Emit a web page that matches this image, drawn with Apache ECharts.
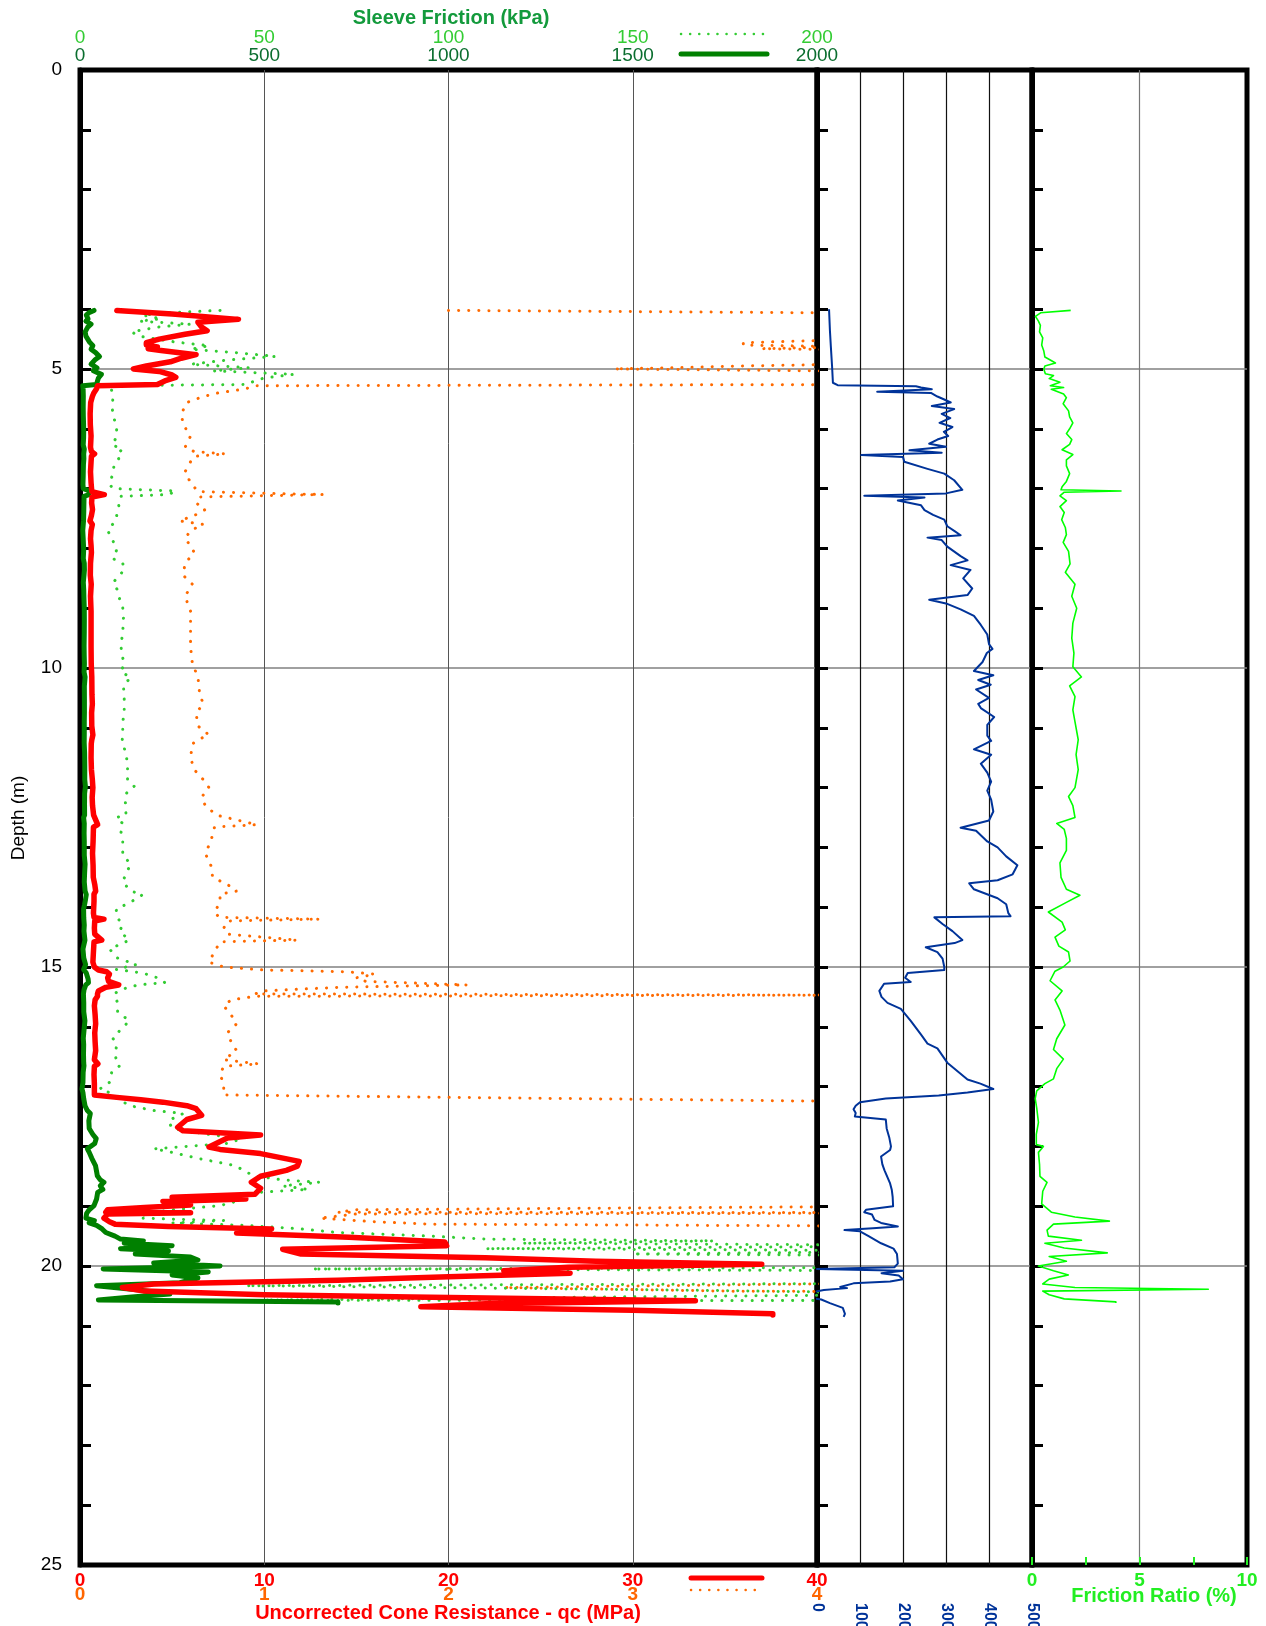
<!DOCTYPE html>
<html><head><meta charset="utf-8">
<script src="https://cdn.jsdelivr.net/npm/echarts@6/dist/echarts.min.js"></script>
<style>html,body{margin:0;padding:0;background:#fff}#c{width:1266px;height:1626px}</style>
</head><body><div id="c"></div><script>
// ---------- DATA ----------
// Cone resistance qc (MPa) vs depth (m)
const qcDepth = [4.02,4.08,4.17,4.22,4.30,4.36,4.42,4.50,4.56,4.60,4.63,4.66,4.69,4.76,4.82,4.88,4.95,5.00,5.04,5.10,5.14,5.20,5.26,5.28,5.33,5.40,5.46,5.56,5.75,5.93,6.12,6.31,6.38,6.42,6.46,6.55,6.72,6.90,7.05,7.10,7.14,7.24,7.35,7.45,7.54,7.60,7.70,7.84,7.95,8.07,8.25,8.45,8.60,8.80,9.05,9.35,9.65,9.93,10.15,10.45,10.60,10.75,10.97,11.12,11.20,11.27,11.50,11.70,11.87,12.00,12.16,12.30,12.46,12.62,12.66,12.90,13.10,13.30,13.50,13.62,13.73,13.78,13.90,14.10,14.17,14.20,14.23,14.35,14.45,14.55,14.58,14.80,14.92,15.00,15.05,15.08,15.12,15.18,15.24,15.30,15.34,15.40,15.45,15.49,15.55,15.65,15.80,15.95,16.10,16.25,16.40,16.55,16.62,16.66,16.80,16.95,17.14,17.18,17.22,17.26,17.32,17.37,17.48,17.55,17.68,17.74,17.81,17.86,18.01,18.05,18.12,18.25,18.33,18.40,18.50,18.60,18.70,18.80,18.85,18.88,18.92,18.98,19.02,19.06,19.10,19.11,19.13,19.20,19.26,19.30,19.34,19.38,19.45,19.52,19.60,19.66,19.72,19.80,19.86,19.92,19.97,20.02,20.08,20.12,20.18,20.24,20.30,20.36,20.42,20.48,20.52,20.58,20.63,20.68,20.74,20.80,20.82];
const qcValues = [2.0,5.0,8.6,6.4,6.6,6.9,5.7,4.3,3.6,3.6,4.2,3.7,4.4,6.3,5.5,4.9,3.6,2.9,4.3,5.0,5.2,4.6,4.2,0.95,0.90,0.75,0.67,0.58,0.55,0.56,0.60,0.57,0.62,0.79,0.62,0.60,0.57,0.60,0.64,1.32,0.65,0.63,0.68,0.62,0.54,0.67,0.60,0.57,0.60,0.62,0.57,0.56,0.61,0.57,0.60,0.60,0.60,0.61,0.64,0.65,0.67,0.63,0.64,0.70,0.64,0.61,0.60,0.62,0.67,0.70,0.66,0.68,0.74,0.96,0.73,0.71,0.68,0.71,0.72,0.80,0.85,0.76,0.76,0.73,0.76,1.30,0.80,0.78,0.80,1.18,0.76,0.72,0.70,0.78,1.00,1.45,1.60,1.50,1.55,2.10,1.40,1.00,0.95,0.95,0.82,0.78,0.82,0.85,0.80,0.82,0.85,0.78,0.97,0.78,0.76,0.78,0.78,2.0,3.3,4.5,5.8,6.3,6.6,5.8,5.3,5.6,9.8,8.0,7.0,7.6,9.8,11.9,11.8,11.2,9.8,9.3,9.8,9.5,5.0,9.0,4.5,6.0,3.5,1.5,1.4,6.0,1.5,1.3,1.6,1.9,4.8,10.4,8.5,14.6,19.8,19.9,11.0,12.0,22.0,28.0,37.0,26.5,23.0,26.6,20.0,14.0,4.0,2.3,3.5,10.0,18.0,33.4,22.0,18.5,30.0,37.6,37.6];
// Extra sample seen only on the 0-4 MPa trace: [depth, qc]
const qcZoomExtra = [[15.47, 4.3]];

// Sleeve friction fs (kPa) vs depth (m)
const fsDepth = [4.02,4.06,4.10,4.16,4.20,4.25,4.30,4.38,4.45,4.55,4.61,4.67,4.73,4.79,4.85,4.92,4.98,5.03,5.09,5.15,5.21,5.26,5.28,5.34,5.45,5.63,5.78,5.90,6.04,6.15,6.27,6.34,6.42,6.50,6.60,6.79,6.93,7.00,7.04,7.10,7.13,7.39,7.54,7.70,7.84,8.02,8.17,8.25,8.36,8.57,8.70,8.80,8.99,9.18,9.40,9.63,9.78,9.93,10.07,10.15,10.30,10.52,10.75,10.90,11.10,11.25,11.42,11.64,11.87,11.98,12.10,12.28,12.46,12.50,12.60,12.76,12.90,13.13,13.28,13.43,13.58,13.73,13.79,13.88,13.96,14.03,14.18,14.30,14.40,14.55,14.70,14.85,14.96,15.04,15.10,15.20,15.26,15.30,15.38,15.45,15.60,15.75,15.90,16.05,16.19,16.30,16.45,16.60,16.65,16.76,16.93,17.04,17.10,17.20,17.32,17.40,17.45,17.57,17.70,17.80,17.87,17.95,18.04,18.10,18.20,18.32,18.42,18.49,18.56,18.60,18.66,18.72,18.77,18.88,18.99,19.06,19.12,19.20,19.24,19.28,19.32,19.38,19.44,19.50,19.55,19.58,19.62,19.66,19.71,19.75,19.80,19.85,19.90,19.95,20.00,20.05,20.10,20.15,20.20,20.28,20.33,20.40,20.47,20.52,20.57,20.60,20.62];
const fsValues = [38,24,17,22,16,30,21,14,16,26,35,30,43,53,40,30,46,36,58,50,47,45,7.5,8.5,9,8.7,9,9.6,10,9.8,8.7,11.6,10,10.5,9.3,8.7,8,9,26,24,11,10.2,9.6,7.5,8.7,10,8.9,11.6,12,9,10.2,10.5,11.6,11.8,11.6,11.1,11.4,12,11.1,13.8,11.8,12,12,11.6,11.6,11.4,12.5,12.9,12.9,14.7,12.5,12.3,12.5,9.8,11.6,11.1,11.6,11.6,13.8,12.5,11.6,13.8,17,14.7,12.3,9.8,10.2,11.6,10.7,13.4,8,10.2,15.2,9.8,17,22,23,15.7,11,9.3,10.2,10.2,13.4,11,8.9,10,9.5,10,10.8,8.6,8,5.4,8,10,13.6,20,28,24,25,35,44,40,20,25,32,42,45,47,55,65,55,62,48,45,38,25,18,16,39,25,45,60,70,95,110,172,120,250,110,240,150,300,320,200,380,63,348,250,320,271,45,160,244,140,50,700,700];

// Middle track (0-500) vs depth (m)
const midDepth = [4.00,4.35,4.60,4.95,5.23,5.27,5.29,5.31,5.34,5.38,5.40,5.46,5.51,5.56,5.62,5.67,5.75,5.82,5.90,5.97,6.05,6.12,6.18,6.25,6.30,6.36,6.40,6.44,6.47,6.55,6.67,6.75,6.86,7.02,7.08,7.12,7.15,7.20,7.28,7.36,7.44,7.52,7.63,7.71,7.78,7.82,7.86,7.97,8.13,8.20,8.28,8.36,8.50,8.67,8.78,8.86,8.92,9.02,9.13,9.28,9.44,9.60,9.68,9.75,9.90,10.05,10.12,10.20,10.28,10.36,10.50,10.60,10.67,10.82,10.95,11.13,11.22,11.36,11.45,11.60,11.75,11.90,12.05,12.20,12.40,12.55,12.67,12.72,12.90,13.00,13.15,13.30,13.45,13.55,13.60,13.70,13.85,13.95,14.10,14.15,14.17,14.28,14.40,14.55,14.60,14.67,14.75,14.86,15.00,15.05,15.10,15.18,15.25,15.28,15.40,15.50,15.60,15.70,15.90,16.13,16.28,16.36,16.60,16.88,16.95,17.04,17.10,17.15,17.20,17.26,17.32,17.38,17.44,17.50,17.55,17.70,17.85,18.00,18.06,18.17,18.30,18.40,18.62,18.73,18.85,19.00,19.06,19.10,19.14,19.23,19.28,19.34,19.37,19.40,19.42,19.50,19.62,19.71,19.80,19.96,20.02,20.05,20.08,20.12,20.16,20.22,20.26,20.29,20.35,20.37,20.40,20.45,20.50,20.56,20.62,20.70,20.80,20.85];
const midValues = [28,30,32,35,37,48,230,242,267,140,265,280,296,311,267,319,290,310,285,315,295,305,280,261,300,215,290,103,200,203,257,296,319,338,300,110,250,188,242,250,270,296,303,320,334,257,290,303,334,350,311,357,340,361,350,261,300,334,365,381,396,400,408,395,385,365,410,375,404,370,400,375,381,412,396,396,405,365,405,381,396,405,396,405,410,400,334,370,396,420,440,466,455,420,354,365,420,440,445,450,273,292,315,338,320,253,280,292,296,296,211,205,218,156,145,150,164,195,218,242,257,280,303,350,380,410,350,283,160,100,90,85,90,88,160,162,168,172,170,149,152,157,170,174,176,177,114,110,128,134,149,188,130,64,100,120,149,178,186,188,180,0,200,150,190,200,170,85,54,70,16,-20,-55,10,30,60,65,62];

// Friction ratio Rf (%) vs depth (m)
const rfDepth = [4.02,4.06,4.12,4.20,4.27,4.38,4.48,4.60,4.70,4.80,4.85,4.90,4.95,5.00,5.08,5.11,5.16,5.22,5.28,5.31,5.34,5.42,5.48,5.58,5.70,5.80,5.90,6.00,6.08,6.18,6.26,6.35,6.43,6.52,6.62,6.75,6.88,6.97,7.02,7.04,7.06,7.12,7.20,7.30,7.40,7.52,7.65,7.77,7.90,8.05,8.26,8.40,8.60,8.80,9.00,9.25,9.50,9.75,9.98,10.15,10.30,10.48,10.70,10.90,11.20,11.45,11.70,12.00,12.15,12.30,12.50,12.60,12.70,12.85,13.05,13.26,13.50,13.70,13.80,13.92,14.08,14.25,14.38,14.50,14.65,14.75,14.90,15.00,15.07,15.23,15.40,15.55,15.72,15.97,16.20,16.38,16.54,16.70,16.87,16.95,17.07,17.20,17.36,17.60,17.80,17.97,18.00,18.10,18.30,18.50,18.60,18.75,18.96,19.10,19.18,19.25,19.30,19.40,19.50,19.57,19.62,19.70,19.78,19.84,19.92,20.00,20.08,20.15,20.22,20.30,20.36,20.39,20.42,20.48,20.55,20.60,20.62];
const rfValues = [1.8,0.4,0.16,0.3,0.39,0.35,0.5,0.45,0.55,0.6,0.85,1.09,0.6,0.55,0.62,1.0,0.8,1.3,0.85,1.47,0.9,1.47,1.6,1.45,1.7,1.75,1.9,1.75,1.6,1.85,1.75,1.4,1.9,1.6,1.6,1.75,1.6,1.4,1.35,4.14,1.5,1.3,1.6,1.3,1.5,1.38,1.55,1.6,1.45,1.7,1.77,1.55,2.0,1.85,2.08,1.9,1.85,1.95,1.9,2.3,1.75,2.0,1.9,2.0,2.15,2.05,2.15,2.0,1.7,1.9,2.0,1.15,1.5,1.6,1.6,1.3,1.35,1.6,2.23,1.6,0.76,1.4,1.55,1.07,1.25,1.7,1.77,1.45,1.07,0.84,1.4,1.07,1.3,1.53,1.15,1.0,1.46,1.15,1.0,0.6,0.22,0.15,0.22,0.3,0.2,0.2,0.53,0.3,0.35,0.37,0.7,0.5,0.45,0.9,2.0,3.6,1.0,0.7,0.76,2.3,0.6,1.5,3.5,0.8,1.6,0.3,1.0,1.69,0.8,0.5,2.0,8.2,0.5,0.8,1.5,3.9,3.9];

// Axis ranges
const depthRange = [0, 25];
const qcRange = [0, 40], qcZoomRange = [0, 4];
const fsRange = [0, 200], fsWideRange = [0, 2000];
const midRange = [0, 500];
const rfRange = [0, 10];

// ---------- CHART ----------
const FONT = '"Liberation Sans", Arial, Helvetica, sans-serif';
const pairs = (vals, depths) => vals.map((v, i) => [v, depths[i]]);
function withExtra(base, extra) {
  const out = base.slice();
  extra.forEach(([d, v]) => {
    let k = out.findIndex(p => p[1] > d);
    if (k < 0) k = out.length;
    out.splice(k, 0, [v, d]);
  });
  return out;
}
const chart = echarts.init(document.getElementById('c'), null, {renderer: 'canvas'});

const G = [
  {left: 80, top: 70, width: 737, height: 1495},
  {left: 817, top: 70, width: 215, height: 1495},
  {left: 1032, top: 70, width: 215, height: 1495}
];
const grid = G.map(g => Object.assign({show: true, borderColor: '#000', borderWidth: 5,
  backgroundColor: 'transparent', outerBoundsMode: 'none', containLabel: false}, g));

const noLine = {show: false, onZero: false};
const plain = v => String(v);
function lbl(extra) { return Object.assign({fontFamily: FONT, showMinLabel: true, showMaxLabel: true, formatter: plain}, extra); }

const xAxis = [
  {gridIndex: 0, type: 'value', position: 'bottom', min: qcRange[0], max: qcRange[1], interval: 10,
    axisLine: noLine, axisTick: {show: false},
    axisLabel: lbl({color: '#ff0000', fontWeight: 'bold', fontSize: 19, margin: 6}),
    splitLine: {show: true, showMinLine: false, showMaxLine: false, lineStyle: {color: '#555', width: 1}}},
  {gridIndex: 0, type: 'value', position: 'bottom', offset: 14, min: qcZoomRange[0], max: qcZoomRange[1], interval: 1,
    axisLine: noLine, axisTick: {show: false},
    axisLabel: lbl({color: '#ff6600', fontWeight: 'bold', fontSize: 19, margin: 6}),
    splitLine: {show: false}},
  {gridIndex: 0, type: 'value', position: 'top', offset: 18, min: fsRange[0], max: fsRange[1], interval: 50,
    axisLine: noLine, axisTick: {show: false},
    axisLabel: lbl({color: '#33cc33', fontSize: 19, margin: 5}),
    splitLine: {show: false}},
  {gridIndex: 0, type: 'value', position: 'top', min: fsWideRange[0], max: fsWideRange[1], interval: 500,
    axisLine: noLine, axisTick: {show: false},
    axisLabel: lbl({color: '#0b6e2f', fontSize: 19, margin: 5}),
    splitLine: {show: false}},
  {gridIndex: 1, type: 'value', position: 'bottom', min: midRange[0], max: midRange[1], interval: 100,
    axisLine: noLine, axisTick: {show: false},
    axisLabel: lbl({color: '#003399', fontWeight: 'bold', fontSize: 16, margin: 38, rotate: -90}),
    splitLine: {show: true, showMinLine: false, showMaxLine: false, lineStyle: {color: '#111', width: 1.2}}},
  {gridIndex: 2, type: 'value', position: 'bottom', min: rfRange[0], max: rfRange[1], interval: 5,
    axisLine: noLine, axisTick: {show: false},
    axisLabel: lbl({color: '#22ee22', fontWeight: 'bold', fontSize: 19, margin: 6}),
    splitLine: {show: true, showMinLine: false, showMaxLine: false, lineStyle: {color: '#777', width: 1.2}}},
  {gridIndex: 2, type: 'value', position: 'bottom', min: rfRange[0], max: rfRange[1], interval: 2.5,
    axisLine: noLine,
    axisTick: {show: true, inside: true, length: 8, lineStyle: {color: '#22ee22', width: 2}},
    axisLabel: {show: false}, splitLine: {show: false}}
];

const yAxis = [];
for (let g = 0; g < 3; g++) {
  yAxis.push({gridIndex: g, type: 'value', position: 'left', min: depthRange[0], max: depthRange[1], interval: 5, inverse: true,
    axisLine: noLine, axisTick: {show: false},
    axisLabel: lbl({show: g === 0, color: '#000', fontSize: 19, margin: 18}),
    splitLine: {show: true, showMinLine: false, showMaxLine: false, lineStyle: {color: '#808080', width: 1.6}}});
  yAxis.push({gridIndex: g, type: 'value', position: 'left', min: depthRange[0], max: depthRange[1], interval: 1, inverse: true,
    axisLine: {show: true, onZero: false, lineStyle: {color: '#000', width: 5}},
    axisTick: {show: true, inside: true, length: 11, lineStyle: {color: '#000', width: 3}},
    axisLabel: {show: false}, splitLine: {show: false}});
}

function lineSeries(xi, yi, data, style, extra) {
  return Object.assign({type: 'line', xAxisIndex: xi, yAxisIndex: yi, data: data, symbol: 'none', showSymbol: false,
    silent: true, clip: true, lineStyle: style}, extra || {});
}
const dots = (color) => ({color: color, width: 3, type: [0.1, 10], cap: 'round', join: 'round'});

const series = [
  lineSeries(1, 0, withExtra(pairs(qcValues, qcDepth), qcZoomExtra), dots('#ff6a00'), {z: 2}),
  lineSeries(2, 0, pairs(fsValues, fsDepth), dots('#33cc33'), {z: 3}),
  lineSeries(3, 0, pairs(fsValues, fsDepth), {color: '#008000', width: 5, cap: 'round', join: 'round'}, {z: 4}),
  lineSeries(0, 0, pairs(qcValues, qcDepth), {color: '#ff0000', width: 5.5, cap: 'round', join: 'round'}, {z: 5}),
  lineSeries(4, 2, pairs(midValues, midDepth), {color: '#003399', width: 2, join: 'round'}, {z: 5, clip: false}),
  lineSeries(5, 4, pairs(rfValues, rfDepth), {color: '#00ff00', width: 1.6, join: 'round'}, {z: 5})
];

function txt(text, x, y, size, weight, color, rot) {
  return {type: 'text', x: x, y: y, rotation: rot || 0, silent: true, z: 10,
    style: {text: text, fontSize: size, fontWeight: weight, fontFamily: FONT, fill: color,
      align: 'center', verticalAlign: 'middle'}};
}
function seg(x1, x2, y, color, w, dash) {
  return {type: 'line', silent: true, z: 10, shape: {x1: x1, y1: y, x2: x2, y2: y},
    style: {stroke: color, lineWidth: w, lineDash: dash || null, lineCap: 'round'}};
}

const graphic = {elements: [
  txt('Sleeve Friction (kPa)', 451, 18, 20, 'bold', '#139a3c'),
  txt('Uncorrected Cone Resistance - qc (MPa)', 448, 1613, 20, 'bold', '#ff0000'),
  txt('Friction Ratio (%)', 1154, 1596, 20, 'bold', '#22ee22'),
  txt('Depth (m)', 19, 818, 19, 'normal', '#000', Math.PI / 2),
  seg(681, 767, 34, '#33cc33', 2.5, [0.1, 9]),
  seg(681, 767, 54, '#008000', 5),
  seg(691, 762, 1578, '#ff0000', 5),
  seg(691, 762, 1590, '#ff6a00', 2.5, [0.1, 9])
]};

chart.setOption({animation: false, grid: grid, xAxis: xAxis, yAxis: yAxis, series: series, graphic: graphic});
</script></body></html>
